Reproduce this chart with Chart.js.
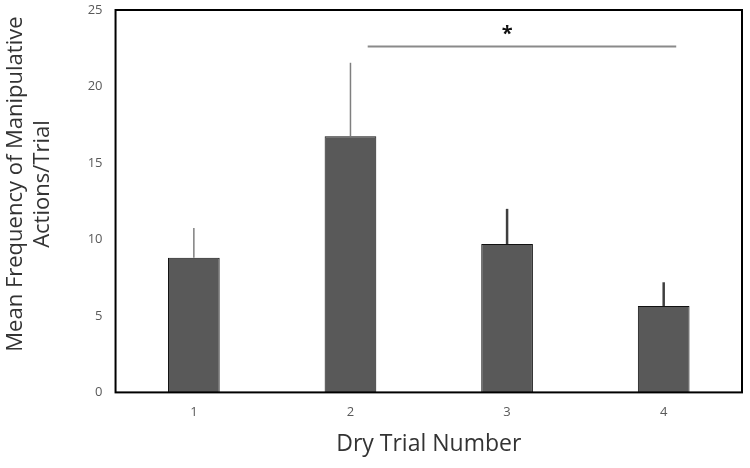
<!DOCTYPE html>
<html>
<head>
<meta charset="utf-8">
<script src="https://cdn.jsdelivr.net/npm/chart.js@4/dist/chart.umd.min.js"></script>
<style>
  html, body { margin: 0; padding: 0; background: #fff; }
  #wrap { width: 750px; height: 468px; }
</style>
</head>
<body>
<div id="wrap"><canvas id="chart" width="750" height="468"></canvas></div>
<script>
// 数据
const trials = ['1', '2', '3', '4'];
const meanActions = [8.8, 16.75, 9.7, 5.65];
const errUp = [1.95, 4.8, 2.3, 1.55];
const yTicks = [0, 5, 10, 15, 20, 25];

// 显著性标记（2 与 4 之间）
const sigFrom = 1.11;
const sigTo = 3.08;
const sigY = 22.62;
const sigText = '*';

const barColor = '#595959';
const errColors = ['#7f7f7f', '#7f7f7f', '#3f3f3f', '#3f3f3f'];
const errWidths = [1.5, 1.5, 2.5, 2.5];

// 误差线（只画上半部分，无端帽）
const errorBarPlugin = {
    id: 'errorBars',
    afterDatasetsDraw(chart) {
        const ctx = chart.ctx;
        const meta = chart.getDatasetMeta(0);
        const y = chart.scales.y;
        ctx.save();
        meta.data.forEach((bar, i) => {
            ctx.strokeStyle = errColors[i];
            ctx.lineWidth = errWidths[i];
            ctx.beginPath();
            ctx.moveTo(bar.x, y.getPixelForValue(meanActions[i]));
            ctx.lineTo(bar.x, y.getPixelForValue(meanActions[i] + errUp[i]));
            ctx.stroke();
        });
        ctx.restore();
    }
};

// 外框 + 显著性横线
const framePlugin = {
    id: 'frame',
    afterDraw(chart) {
        const ctx = chart.ctx;
        const a = chart.chartArea;
        const x = chart.scales.x;
        const y = chart.scales.y;
        ctx.save();
        ctx.strokeStyle = '#000';
        ctx.lineWidth = 2;
        ctx.strokeRect(a.left, a.top, a.right - a.left, a.bottom - a.top);

        const py = y.getPixelForValue(sigY);
        ctx.strokeStyle = '#8a8a8a';
        ctx.lineWidth = 2;
        ctx.beginPath();
        ctx.moveTo(x.getPixelForValue(sigFrom), py);
        ctx.lineTo(x.getPixelForValue(sigTo), py);
        ctx.stroke();

        ctx.fillStyle = '#111';
        ctx.font = 'bold 20px "Open Sans", sans-serif';
        ctx.textAlign = 'center';
        ctx.textBaseline = 'alphabetic';
        ctx.fillText(sigText, x.getPixelForValue(2), py - 6);
        ctx.restore();
    }
};

new Chart(document.getElementById('chart'), {
    type: 'bar',
    data: {
        labels: trials,
        datasets: [{
            data: meanActions,
            backgroundColor: barColor,
            borderColor: '#111',
            borderWidth: 1,
            barPercentage: 0.33,
            categoryPercentage: 1.0
        }]
    },
    options: {
        responsive: false,
        animation: false,
        layout: { padding: { top: 10, right: 8, left: 0, bottom: 12 } },
        plugins: {
            legend: { display: false },
            tooltip: { enabled: false }
        },
        scales: {
            x: {
                grid: { display: false, drawTicks: false },
                border: { display: false },
                ticks: {
                    color: '#595959',
                    font: { family: '"Open Sans", sans-serif', size: 13 },
                    padding: 12
                },
                title: {
                    display: true,
                    text: 'Dry Trial Number',
                    color: '#333',
                    font: { family: '"Open Sans", sans-serif', size: 23, lineHeight: 1.0 },
                    padding: { top: 1, bottom: 0 }
                }
            },
            y: {
                min: 0,
                max: 25,
                afterBuildTicks(axis) {
                    axis.ticks = yTicks.map(v => ({ value: v }));
                },
                afterFit(axis) {
                    axis.paddingTop = 0;
                    axis.paddingBottom = 0;
                },
                grid: { display: false, drawTicks: false },
                border: { display: false },
                ticks: {
                    color: '#595959',
                    font: { family: '"Open Sans", sans-serif', size: 13 },
                    padding: 13
                },
                title: {
                    display: true,
                    text: ['      Mean Frequency of Manipulative', '      Actions/Trial'],
                    color: '#333',
                    font: { family: '"Open Sans", sans-serif', size: 22, lineHeight: 1.22 },
                    padding: { top: 2, bottom: 19 }
                }
            }
        }
    },
    plugins: [errorBarPlugin, framePlugin]
});
</script>
</body>
</html>
